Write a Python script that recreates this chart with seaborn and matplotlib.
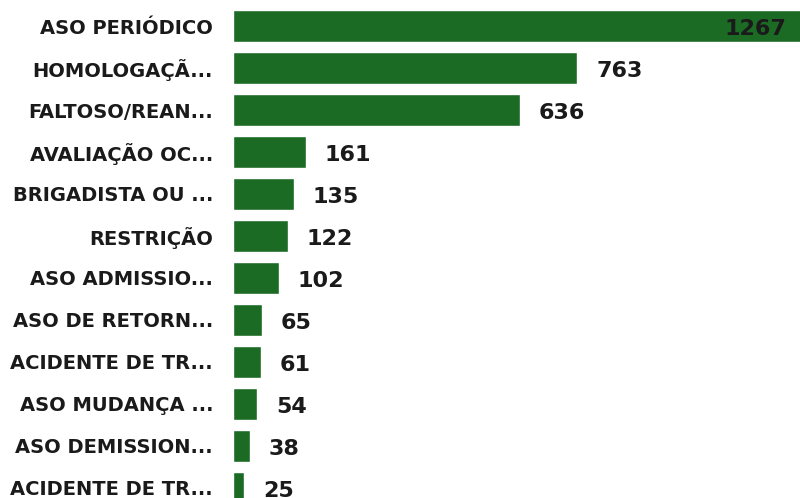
import matplotlib
matplotlib.use("Agg")
import matplotlib.pyplot as plt
import seaborn as sns
import pandas as pd

categories = ["ASO PERIÓDICO", "HOMOLOGAÇÃ...", "FALTOSO/REAN...", "AVALIAÇÃO OC...",
              "BRIGADISTA OU ...", "RESTRIÇÃO", "ASO ADMISSIO...", "ASO DE RETORN...",
              "ACIDENTE DE TR...", "ASO MUDANÇA ...", "ASO DEMISSION...", "ACIDENTE DE TR..."]
values = [1267, 763, 636, 161, 135, 122, 102, 65, 61, 54, 38, 25]

bar_color = "#1c6b25"
text_color = "#1a1a1a"

sns.set_theme(style="white")
plt.rcParams['font.family'] = ['DejaVu Sans']

df = pd.DataFrame({"cat": range(len(categories)), "val": values})

fig = plt.figure(figsize=(8, 4.98), dpi=100)
ax = fig.add_axes([233 / 800, 0, 1 - 233 / 800, 1])
sns.barplot(data=df, x="val", y="cat", orient="h", color=bar_color,
            saturation=1, width=0.76, ax=ax)

ax.set_xlim(0, 1256)
ax.set_ylim(11.24, -0.62)
ax.set_xlabel("")
ax.set_ylabel("")
ax.set_xticks([])
ax.set_yticks(range(len(categories)))
ax.set_yticklabels(categories, fontsize=14, fontweight="bold", color=text_color)
for t in ax.get_yticklabels():
    t.set_verticalalignment("center_baseline")
ax.tick_params(axis="y", length=0, pad=14.4)
for s in ax.spines.values():
    s.set_visible(False)

xmax = ax.get_xlim()[1]
for i, v in enumerate(values):
    if i == 0:
        # largest bar runs past the right edge; label sits inside it
        ax.annotate(str(v), (xmax, i), xytext=(-10, -1), textcoords="offset points",
                    ha="right", va="center_baseline", fontsize=16, fontweight="bold",
                    color=text_color, annotation_clip=False)
    else:
        ax.annotate(str(v), (v, i), xytext=(13.5, -1), textcoords="offset points",
                    ha="left", va="center_baseline", fontsize=16, fontweight="bold",
                    color=text_color, annotation_clip=False)

fig.savefig("out.png", dpi=100)
